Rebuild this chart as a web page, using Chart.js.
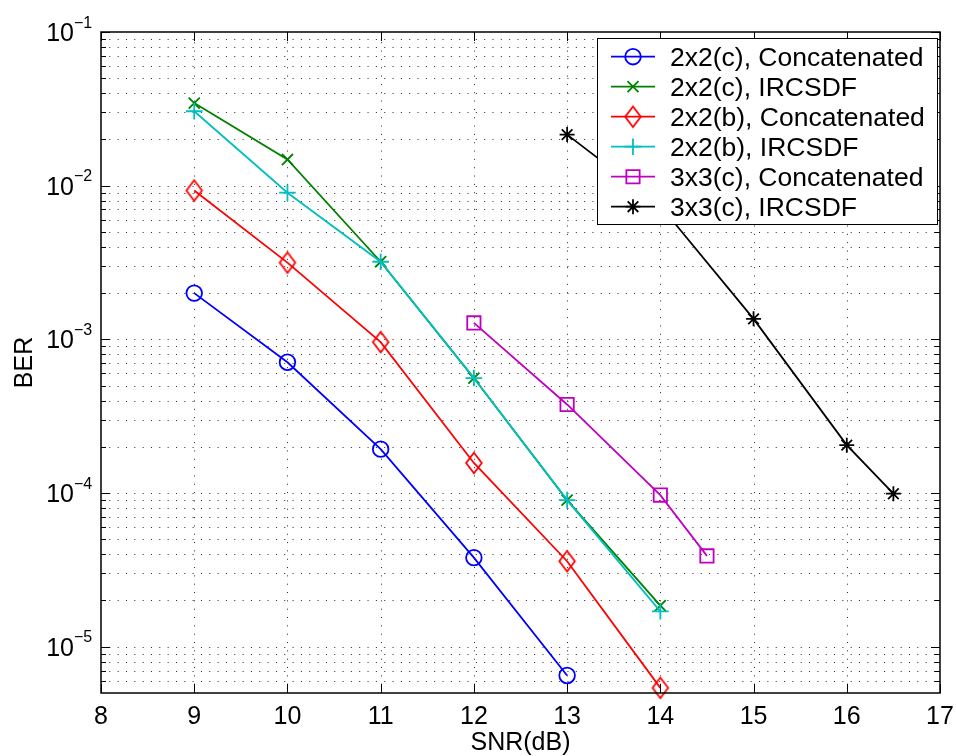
<!DOCTYPE html>
<html>
<head>
<meta charset="utf-8">
<script src="https://cdn.jsdelivr.net/npm/chart.js@4.4.1/dist/chart.umd.min.js"></script>
<style>
  html, body { margin: 0; padding: 0; background: #fff; }
  canvas { display: block; }
</style>
</head>
<body>
<canvas id="ber" width="956" height="756"></canvas>
<script>
// Axis ticks
const snrTicks = [8, 9, 10, 11, 12, 13, 14, 15, 16, 17];
const berDecades = [1e-5, 1e-4, 1e-3, 1e-2, 1e-1];
const berExponents = [-5, -4, -3, -2, -1];

// Series: SNR (dB) and bit error rate
const seriesNames = [
  '2x2(c), Concatenated',
  '2x2(c), IRCSDF',
  '2x2(b), Concatenated',
  '2x2(b), IRCSDF',
  '3x3(c), Concatenated',
  '3x3(c), IRCSDF'
];
const snr2x2cConcat = [9, 10, 11, 12, 13];
const ber2x2cConcat = [2.0e-3, 7.1e-4, 1.93e-4, 3.8e-5, 6.5e-6];
const snr2x2cIrcsdf = [9, 10, 11, 12, 13, 14];
const ber2x2cIrcsdf = [3.45e-2, 1.48e-2, 3.2e-3, 5.6e-4, 9.0e-5, 1.85e-5];
const snr2x2bConcat = [9, 10, 11, 12, 13, 14];
const ber2x2bConcat = [9.3e-3, 3.16e-3, 9.6e-4, 1.57e-4, 3.6e-5, 5.4e-6];
const snr2x2bIrcsdf = [9, 10, 11, 12, 13, 14];
const ber2x2bIrcsdf = [3.05e-2, 9.0e-3, 3.2e-3, 5.6e-4, 9.0e-5, 1.7e-5];
const snr3x3cConcat = [12, 13, 14, 14.5];
const ber3x3cConcat = [1.28e-3, 3.77e-4, 9.7e-5, 3.9e-5];
const snr3x3cIrcsdf = [13, 14, 15, 16, 16.5];
const ber3x3cIrcsdf = [2.15e-2, 7.4e-3, 1.36e-3, 2.05e-4, 9.9e-5];

const FONT = '"Liberation Sans", Arial, Helvetica, sans-serif';
const LINE_W = 1.8;

// Tall diamond marker, drawn once into a small canvas
function makeDiamond(color) {
  const c = document.createElement('canvas');
  c.width = 22; c.height = 26;
  const g = c.getContext('2d');
  g.strokeStyle = color;
  g.lineWidth = LINE_W;
  g.beginPath();
  g.moveTo(11, 13 - 10.3);
  g.lineTo(11 + 7.8, 13);
  g.lineTo(11, 13 + 10.3);
  g.lineTo(11 - 7.8, 13);
  g.closePath();
  g.stroke();
  return c;
}
const diamondRed = makeDiamond('#ff0000');

const styles = [
  { color: '#0000ff', point: 'circle', radius: 7.8 },
  { color: '#008000', point: 'crossRot', radius: 7.8 },
  { color: '#ff0000', point: diamondRed, radius: 8 },
  { color: '#00bfbf', point: 'cross', radius: 8.3 },
  { color: '#bf00bf', point: 'rect', radius: 9.4 },
  { color: '#000000', point: 'star', radius: 7.5 }
];
const xs = [snr2x2cConcat, snr2x2cIrcsdf, snr2x2bConcat, snr2x2bIrcsdf, snr3x3cConcat, snr3x3cIrcsdf];
const ys = [ber2x2cConcat, ber2x2cIrcsdf, ber2x2bConcat, ber2x2bIrcsdf, ber3x3cConcat, ber3x3cIrcsdf];

const datasets = seriesNames.map((name, i) => ({
  label: name,
  data: xs[i].map((x, k) => ({ x: x, y: ys[i][k] })),
  borderColor: styles[i].color,
  backgroundColor: 'rgba(0,0,0,0)',
  borderWidth: LINE_W,
  pointStyle: styles[i].point,
  pointRadius: styles[i].radius,
  pointBorderColor: styles[i].color,
  pointBackgroundColor: 'rgba(0,0,0,0)',
  pointBorderWidth: LINE_W,
  tension: 0,
  clip: false,
  order: seriesNames.length - i
}));

// Grid values on the log axis: every 1..9 multiple inside the range
function logGrid(min, max) {
  const out = [];
  for (let e = Math.floor(Math.log10(min)); e <= Math.ceil(Math.log10(max)); e++) {
    for (let m = 1; m <= 9; m++) {
      const v = m * Math.pow(10, e);
      if (v > min * 1.0001 && v < max * 0.9999) out.push({ v: v, major: m === 1 });
    }
  }
  return out;
}

function drawMarker(ctx, s, x, y) {
  ctx.save();
  ctx.strokeStyle = s.color;
  ctx.lineWidth = LINE_W;
  const r = s.radius;
  ctx.beginPath();
  if (typeof s.point !== 'string') {
    ctx.drawImage(s.point, x - s.point.width / 2, y - s.point.height / 2);
    ctx.restore();
    return;
  }
  if (s.point === 'circle') {
    ctx.arc(x, y, r, 0, Math.PI * 2);
  } else if (s.point === 'cross') {
    ctx.moveTo(x - r, y); ctx.lineTo(x + r, y);
    ctx.moveTo(x, y - r); ctx.lineTo(x, y + r);
  } else if (s.point === 'crossRot') {
    const d = r * Math.SQRT1_2;
    ctx.moveTo(x - d, y - d); ctx.lineTo(x + d, y + d);
    ctx.moveTo(x - d, y + d); ctx.lineTo(x + d, y - d);
  } else if (s.point === 'rect') {
    const h = r * Math.SQRT1_2;
    ctx.rect(x - h, y - h, 2 * h, 2 * h);
  } else if (s.point === 'star') {
    const d = r * Math.SQRT1_2;
    ctx.moveTo(x - r, y); ctx.lineTo(x + r, y);
    ctx.moveTo(x, y - r); ctx.lineTo(x, y + r);
    ctx.moveTo(x - d, y - d); ctx.lineTo(x + d, y + d);
    ctx.moveTo(x - d, y + d); ctx.lineTo(x + d, y - d);
  }
  ctx.stroke();
  ctx.restore();
}

const framePlugin = {
  id: 'frame',
  beforeDatasetsDraw(chart) {
    const { ctx, chartArea: a, scales: { x, y } } = chart;
    ctx.save();
    ctx.strokeStyle = 'rgba(0,0,0,0.85)';
    ctx.lineWidth = 1;
    ctx.setLineDash([1, 7.33]);
    snrTicks.forEach(v => {
      if (v <= x.min || v >= x.max) return;
      const px = Math.round(x.getPixelForValue(v)) + 0.5;
      ctx.beginPath(); ctx.moveTo(px, a.bottom); ctx.lineTo(px, a.top); ctx.stroke();
    });
    logGrid(y.min, y.max).forEach(t => {
      const py = Math.round(y.getPixelForValue(t.v)) + 0.5;
      ctx.beginPath(); ctx.moveTo(a.left, py); ctx.lineTo(a.right, py); ctx.stroke();
    });
    ctx.restore();
  },
  afterDatasetsDraw(chart) {
    const { ctx, chartArea: a, scales: { x, y } } = chart;
    ctx.save();
    // inward tick marks on all four sides
    ctx.strokeStyle = '#000';
    ctx.lineWidth = 1;
    snrTicks.forEach(v => {
      const px = Math.round(x.getPixelForValue(v)) + 0.5;
      ctx.beginPath();
      ctx.moveTo(px, a.bottom); ctx.lineTo(px, a.bottom - 9);
      ctx.moveTo(px, a.top); ctx.lineTo(px, a.top + 9);
      ctx.stroke();
    });
    logGrid(y.min, y.max).concat(berDecades.map(v => ({ v: v, major: true }))).forEach(t => {
      const py = Math.round(y.getPixelForValue(t.v)) + 0.5;
      const len = t.major ? 9 : 5;
      ctx.beginPath();
      ctx.moveTo(a.left, py); ctx.lineTo(a.left + len, py);
      ctx.moveTo(a.right, py); ctx.lineTo(a.right - len, py);
      ctx.stroke();
    });
    // axes box
    ctx.lineWidth = 1.5;
    ctx.strokeRect(a.left, a.top, a.right - a.left, a.bottom - a.top);

    // tick labels
    ctx.fillStyle = '#000';
    ctx.textBaseline = 'alphabetic';
    ctx.font = '25px ' + FONT;
    ctx.textAlign = 'center';
    snrTicks.forEach(v => {
      ctx.fillText(String(v), x.getPixelForValue(v), a.bottom + 31);
    });
    berDecades.forEach((v, i) => {
      const py = y.getPixelForValue(v);
      ctx.font = '25px ' + FONT;
      ctx.textAlign = 'right';
      ctx.fillText('10', a.left - 27, py + 9);
      ctx.font = '16px ' + FONT;
      ctx.textAlign = 'left';
      ctx.fillText('\u2212' + Math.abs(berExponents[i]), a.left - 27, py - 4.5);
    });

    // axis titles
    ctx.font = '25px ' + FONT;
    ctx.textAlign = 'center';
    ctx.fillText('SNR(dB)', (a.left + a.right) / 2, a.bottom + 57);
    ctx.save();
    ctx.translate(32, (a.top + a.bottom) / 2);
    ctx.rotate(-Math.PI / 2);
    ctx.fillText('BER', 0, 0);
    ctx.restore();

    // legend
    const lx = 597, ly = 38, lw = 340, lh = 186;
    ctx.fillStyle = '#fff';
    ctx.fillRect(lx, ly, lw, lh);
    ctx.strokeStyle = '#000';
    ctx.lineWidth = 1;
    ctx.strokeRect(lx + 0.5, ly + 0.5, lw, lh);
    ctx.font = '26.5px ' + FONT;
    ctx.textAlign = 'left';
    seriesNames.forEach((name, i) => {
      const ry = ly + 18.7 + 30 * i;
      ctx.strokeStyle = styles[i].color;
      ctx.lineWidth = LINE_W;
      ctx.beginPath(); ctx.moveTo(611, ry); ctx.lineTo(655, ry); ctx.stroke();
      drawMarker(ctx, styles[i], 633, ry);
      ctx.fillStyle = '#000';
      ctx.fillText(name, 670, ry + 9.3);
    });
    ctx.restore();
  }
};

new Chart(document.getElementById('ber'), {
  type: 'line',
  data: { datasets: datasets },
  options: {
    responsive: false,
    animation: false,
    devicePixelRatio: 1,
    layout: { padding: { top: 32, right: 16, bottom: 0, left: 0 } },
    plugins: { legend: { display: false }, tooltip: { enabled: false } },
    scales: {
      x: {
        type: 'linear', min: 8, max: 17,
        grid: { display: false }, border: { display: false }, ticks: { display: false },
        afterFit: s => { s.height = 63; }
      },
      y: {
        type: 'logarithmic', min: 5e-6, max: 1e-1,
        grid: { display: false }, border: { display: false }, ticks: { display: false },
        afterFit: s => { s.width = 101; }
      }
    }
  },
  plugins: [framePlugin]
});
</script>
</body>
</html>
